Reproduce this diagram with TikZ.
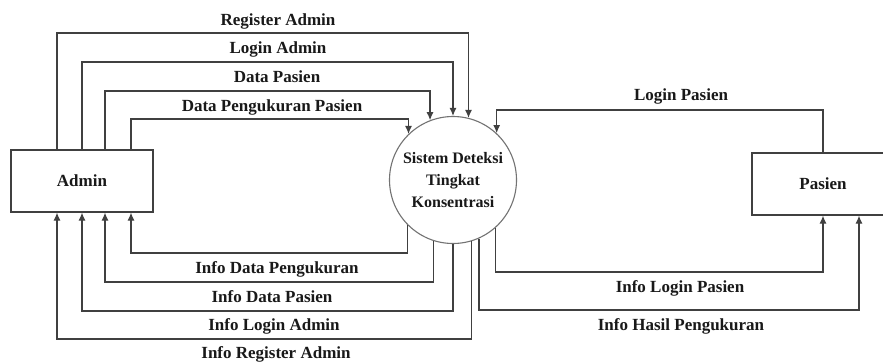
\documentclass[tikz,border=0pt]{standalone}
\usepackage{fontspec}
\setmainfont{Liberation Serif}
\usetikzlibrary{arrows.meta}
\begin{document}
\begin{tikzpicture}[x=1pt,y=-1pt,
  every node/.style={font=\bfseries\fontsize{17}{22}\selectfont, text=black!90},
  entity/.style={draw=black!75, line width=1.2pt, minimum width=142pt, minimum height=62pt, inner sep=0pt},
  proc/.style={draw=black!55, line width=1.1pt, circle, minimum size=127pt, inner sep=0pt, align=center, font=\bfseries\fontsize{16}{22}\selectfont},
  flow/.style={draw=black!75, line width=1.2pt, -{Latex[length=8pt,width=7pt]}},
  lbl/.style={anchor=base}]
\useasboundingbox (0,0) rectangle (883,362);
\clip (0,0) rectangle (883,362);
\fill[white] (0,0) rectangle (883,362);

\node[entity] (admin) at (82,181) {Admin};
\node[proc] (sys) at (453,180) {Sistem Deteksi\\Tingkat\\Konsentrasi};
\node[entity] (pasien) at (823,184) {Pasien};

% Admin -> system
\draw[flow] (admin.north -| 57,0) -- (57,33) -| (sys.76.4);
\draw[flow] (admin.north -| 82,0) -- (82,62) -| (sys.north);
\draw[flow] (admin.north -| 105,0) -- (105,91) -| (sys.111.1);
\draw[flow] (admin.north -| 131,0) -- (131,119) -| (sys.134.8);

% system -> Admin
\draw[flow] (sys.225.2) |- (131,253) -- (admin.south -| 131,0);
\draw[flow] (sys.252.7) |- (105,282) -- (admin.south -| 105,0);
\draw[flow] (sys.south) |- (82,311) -- (admin.south -| 82,0);
\draw[flow] (sys.287.3) |- (57,339) -- (admin.south -| 57,0);

% Pasien <-> system
\draw[flow] (pasien.north) -- (823,110) -| (sys.47.6);
\draw[flow] (sys.312.4) |- (823,272) -- (pasien.south);
\draw[flow] (sys.294) |- (859,310) -- (pasien.south -| 859,0);

% labels
\node[lbl] (l1) at (278,25) {Register Admin};
\node[lbl] (l2) at (278,53) {Login Admin};
\node[lbl] (l3) at (277,82) {Data Pasien};
\node[lbl] (l4) at (272,111) {Data Pengukuran Pasien};
\node[lbl] (l5) at (277,273) {Info Data Pengukuran};
\node[lbl] (l6) at (272,302) {Info Data Pasien};
\node[lbl] (l7) at (274,330) {Info Login Admin};
\node[lbl] (l8) at (276,358) {Info Register Admin};
\node[lbl] (l9) at (681,100) {Login Pasien};
\node[lbl] (l10) at (680,292) {Info Login Pasien};
\node[lbl] (l11) at (681,330) {Info Hasil Pengukuran};
\end{tikzpicture}
\end{document}
